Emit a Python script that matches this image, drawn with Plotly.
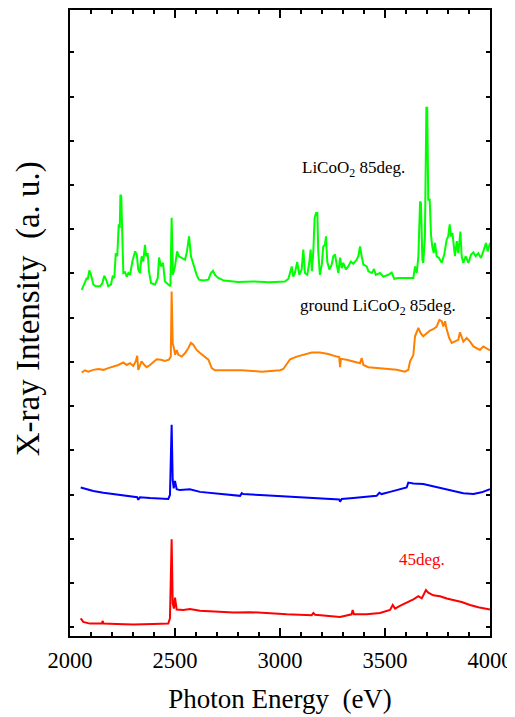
import plotly.graph_objects as go

# ---- data (photon energy in eV, intensity in arbitrary units, offset per spectrum) ----
green_e = [2056, 2068, 2080, 2084, 2092, 2100, 2111, 2122, 2143, 2154, 2163, 2175, 2182, 2195,
           2203, 2211, 2218, 2225, 2232, 2237, 2240, 2244, 2249, 2254, 2262, 2270, 2278, 2286,
           2297, 2310, 2318, 2325, 2333, 2341, 2349, 2357, 2363, 2370, 2376, 2386, 2405, 2418,
           2424, 2433, 2443, 2452, 2468, 2478, 2484, 2490, 2500, 2510, 2519, 2532, 2548, 2557,
           2567, 2576, 2587, 2603, 2614, 2635, 2659, 2671, 2681, 2690, 2706, 2733, 2800, 2873,
           2950, 3024, 3040, 3056, 3063, 3071, 3082, 3092, 3103, 3111, 3119, 3130, 3140, 3146,
           3152, 3159, 3165, 3172, 3178, 3182, 3190, 3199, 3206, 3214, 3219, 3225, 3235, 3246,
           3254, 3262, 3270, 3278, 3286, 3294, 3301, 3314, 3325, 3337, 3349, 3365, 3373, 3381,
           3389, 3397, 3413, 3421, 3437, 3448, 3456, 3476, 3492, 3516, 3532, 3544, 3563, 3595,
           3635, 3643, 3651, 3659, 3667, 3671, 3678, 3682, 3690, 3697, 3701, 3706, 3713, 3719,
           3725, 3732, 3738, 3746, 3757, 3770, 3782, 3794, 3801, 3808, 3814, 3821, 3827, 3833,
           3842, 3849, 3859, 3865, 3873, 3884, 3897, 3910, 3921, 3932, 3944, 3957, 3968, 3981,
           3989, 4000]
green_i = [7.63, 7.75, 7.90, 7.86, 8.07, 7.97, 7.75, 7.71, 7.71, 7.78, 7.95, 7.82, 7.71, 7.75,
           7.93, 7.90, 8.46, 8.39, 9.11, 9.03, 9.78, 9.75, 8.88, 8.01, 8.03, 7.93, 8.01, 7.97,
           8.27, 8.50, 8.43, 8.09, 8.01, 8.39, 8.27, 8.65, 8.39, 8.46, 8.05, 7.78, 7.75, 7.90,
           8.36, 8.16, 8.24, 7.82, 7.75, 7.71, 9.26, 7.97, 8.16, 8.50, 8.39, 8.35, 8.31, 8.50,
           8.84, 8.39, 8.20, 7.97, 7.86, 7.84, 7.86, 8.01, 8.06, 7.97, 7.90, 7.84, 7.81, 7.82,
           7.80, 7.82, 7.88, 8.16, 7.93, 8.01, 8.26, 7.97, 8.09, 8.54, 8.01, 7.97, 8.27, 8.54,
           8.05, 8.54, 9.26, 9.37, 9.37, 8.50, 7.97, 8.20, 8.61, 8.65, 8.84, 8.27, 8.09, 8.20,
           8.39, 8.43, 8.20, 8.01, 8.36, 8.12, 8.24, 8.09, 8.16, 8.27, 8.22, 8.31, 8.39, 8.61,
           8.39, 8.20, 8.16, 8.05, 8.01, 8.10, 7.97, 8.01, 7.93, 7.97, 8.02, 7.88, 7.90, 7.90,
           7.90, 8.16, 8.01, 8.39, 9.63, 9.60, 8.31, 8.24, 8.80, 11.75, 11.75, 9.67, 9.67, 8.88,
           8.61, 8.46, 8.69, 8.39, 8.35, 8.24, 8.43, 8.77, 8.84, 9.11, 8.84, 8.92, 8.69, 8.39,
           8.73, 8.46, 8.95, 8.39, 8.24, 8.39, 8.24, 8.43, 8.48, 8.39, 8.46, 8.35, 8.50, 8.69,
           8.50, 8.69]

orange_e = [2056, 2071, 2087, 2111, 2135, 2159, 2182, 2206, 2230, 2254, 2270, 2286, 2301, 2313,
            2320, 2325, 2333, 2341, 2354, 2365, 2381, 2397, 2413, 2433, 2452, 2471, 2480, 2484,
            2489, 2495, 2501, 2508, 2516, 2532, 2548, 2563, 2576, 2587, 2603, 2619, 2643, 2659,
            2675, 2690, 2738, 2818, 2913, 2976, 3000, 3016, 3029, 3048, 3080, 3111, 3151, 3190,
            3230, 3270, 3282, 3286, 3290, 3318, 3349, 3381, 3389, 3397, 3421, 3460, 3508, 3556,
            3595, 3611, 3619, 3635, 3643, 3659, 3670, 3682, 3699, 3714, 3730, 3746, 3759, 3770,
            3778, 3786, 3794, 3806, 3818, 3833, 3849, 3857, 3865, 3873, 3889, 3905, 3921, 3937,
            3952, 3968, 3984, 4000]
orange_i = [5.76, 5.81, 5.78, 5.82, 5.84, 5.82, 5.86, 5.90, 5.93, 5.99, 5.93, 5.97, 5.91, 6.01,
            6.14, 5.82, 5.93, 6.01, 5.93, 5.88, 5.93, 5.99, 6.06, 6.05, 6.02, 6.05, 6.12, 7.59,
            6.43, 6.31, 6.16, 6.27, 6.16, 6.12, 6.20, 6.31, 6.43, 6.39, 6.27, 6.20, 6.12, 6.05,
            5.86, 5.81, 5.81, 5.81, 5.78, 5.80, 5.81, 5.84, 5.93, 6.06, 6.12, 6.16, 6.21, 6.21,
            6.18, 6.12, 6.11, 5.88, 6.07, 6.05, 6.01, 5.97, 6.09, 5.93, 5.88, 5.86, 5.84, 5.82,
            5.78, 5.82, 6.01, 6.16, 6.58, 6.77, 6.65, 6.58, 6.65, 6.71, 6.74, 6.80, 6.95, 6.92,
            6.80, 6.92, 6.73, 6.54, 6.43, 6.46, 6.50, 6.67, 6.58, 6.46, 6.54, 6.46, 6.35, 6.31,
            6.27, 6.35, 6.31, 6.26]

blue_e = [2051, 2080, 2111, 2159, 2206, 2270, 2320, 2325, 2333, 2381, 2429, 2468, 2476, 2484,
          2489, 2494, 2500, 2508, 2524, 2571, 2619, 2682, 2746, 2810, 2818, 2825, 2905, 2984,
          3063, 3143, 3222, 3282, 3286, 3294, 3349, 3413, 3460, 3473, 3484, 3524, 3571, 3603,
          3611, 3635, 3682, 3730, 3778, 3825, 3873, 3921, 3960, 4000]
blue_i = [3.16, 3.12, 3.08, 3.04, 3.01, 2.97, 2.94, 2.88, 2.94, 2.92, 2.91, 2.90, 2.99, 4.58,
          3.33, 3.14, 3.31, 3.12, 3.10, 3.12, 3.06, 3.03, 3.00, 2.97, 3.03, 3.01, 2.99, 2.97,
          2.94, 2.92, 2.91, 2.89, 2.84, 2.90, 2.92, 2.94, 2.97, 3.04, 3.01, 3.06, 3.12, 3.16,
          3.27, 3.25, 3.24, 3.19, 3.14, 3.09, 3.03, 3.01, 3.05, 3.12]

red_e = [2051, 2063, 2095, 2151, 2156, 2160, 2222, 2301, 2397, 2468, 2476, 2484, 2489, 2495,
         2500, 2508, 2540, 2571, 2619, 2699, 2778, 2857, 2937, 3032, 3151, 3159, 3167, 3222,
         3286, 3341, 3346, 3352, 3413, 3476, 3524, 3537, 3548, 3571, 3603, 3635, 3659, 3675,
         3695, 3706, 3730, 3762, 3794, 3825, 3865, 3905, 3944, 4000]
red_i = [0.20, 0.12, 0.08, 0.08, 0.14, 0.08, 0.07, 0.06, 0.07, 0.08, 0.20, 1.99, 0.54, 0.42,
         0.67, 0.40, 0.39, 0.41, 0.37, 0.35, 0.33, 0.34, 0.31, 0.29, 0.27, 0.32, 0.28, 0.26,
         0.23, 0.29, 0.39, 0.29, 0.29, 0.32, 0.39, 0.50, 0.42, 0.48, 0.55, 0.63, 0.70, 0.65,
         0.84, 0.78, 0.72, 0.70, 0.65, 0.61, 0.57, 0.50, 0.45, 0.40]

x_ticks = [2000, 2500, 3000, 3500, 4000]
y_ticks = list(range(0, 14))

FONT = "Liberation Serif, Times New Roman, serif"

fig = go.Figure()
for e, i, c in [(green_e, green_i, "#00ff00"), (orange_e, orange_i, "#ff8000"),
                (blue_e, blue_i, "#0000ff"), (red_e, red_i, "#ff0000")]:
    fig.add_trace(go.Scatter(x=e, y=i, mode="lines", line=dict(color=c, width=2),
                             showlegend=False, hoverinfo="skip"))

fig.add_annotation(x=3095, y=10.37, xref="x", yref="y", text="LiCoO<sub>2</sub> 85deg.",
                   showarrow=False, xanchor="left", yanchor="middle",
                   font=dict(family=FONT, size=17, color="black"))
fig.add_annotation(x=3086, y=7.25, xref="x", yref="y", text="ground LiCoO<sub>2</sub> 85deg.",
                   showarrow=False, xanchor="left", yanchor="middle",
                   font=dict(family=FONT, size=17, color="black"))
fig.add_annotation(x=3557, y=1.54, xref="x", yref="y", text="45deg.",
                   showarrow=False, xanchor="left", yanchor="middle",
                   font=dict(family=FONT, size=17, color="#ff0000"))
# y-axis title
fig.add_annotation(x=-0.1, y=0.522, xref="paper", yref="paper", text="X-ray Intensity  (a. u.)",
                   textangle=-90, showarrow=False, xanchor="center", yanchor="middle",
                   font=dict(family=FONT, size=33, color="black"))

fig.update_layout(
    width=507, height=709,
    margin=dict(l=62, r=25, t=2, b=81),
    paper_bgcolor="white", plot_bgcolor="white",
    font=dict(family=FONT, color="black"),
    xaxis=dict(range=[2000, 4000], tickvals=x_ticks, ticks="inside", ticklen=8, tickwidth=1.5,
               tickcolor="black", showline=True, linecolor="black", linewidth=2, mirror="ticks",
               showgrid=False, zeroline=False, automargin=False, ticklabelstandoff=3,
               minor=dict(dtick=100, ticks="inside", ticklen=4, tickwidth=1.5, tickcolor="black",
                          showgrid=False),
               tickfont=dict(family=FONT, size=22.5, color="black"),
               title=dict(text="Photon Energy  (eV)", font=dict(family=FONT, size=27, color="black"),
                          standoff=17)),
    yaxis=dict(range=[-0.2, 13.96], tickvals=y_ticks, showticklabels=False, ticks="inside",
               ticklen=4, tickwidth=1.5, tickcolor="black", showline=True, linecolor="black",
               linewidth=2, mirror="ticks", showgrid=False, zeroline=False, automargin=False),
)

fig.write_html("out.html")
